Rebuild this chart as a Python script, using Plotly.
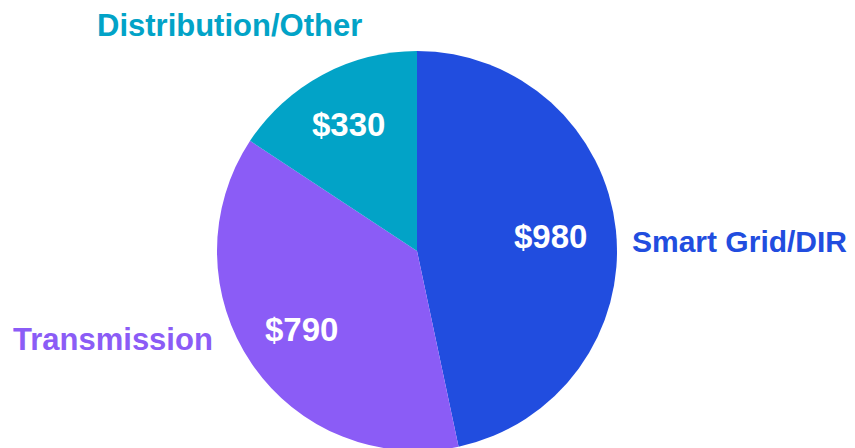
import plotly.graph_objects as go
import math

categories = ["Smart Grid/DIR", "Transmission", "Distribution/Other"]
values = [980, 790, 330]
value_labels = ["$980", "$790", "$330"]
colors = ["#214DDF", "#8B5CF6", "#02A3C7"]

# figure geometry (page body adds an 8px margin)
W, H = 847, 448
cx, cy, R = 409, 243, 200
label_radius = [0.67, 0.70, 0.72]

fig = go.Figure(go.Pie(
    labels=categories,
    values=values,
    textinfo="none",
    marker=dict(colors=colors, line=dict(width=0)),
    sort=False,
    direction="clockwise",
    rotation=0,
    hoverinfo="label+value",
    domain=dict(x=[(cx - R) / W, (cx + R) / W], y=[(H - cy - R) / H, (H - cy + R) / H]),
))

# value labels at the slice mid-angles
total = sum(values)
start = 0.0
for v, lab, fr in zip(values, value_labels, label_radius):
    mid = start + v / total * 360 / 2
    start += v / total * 360
    a = math.radians(mid)
    px = cx + fr * R * math.sin(a)
    py = cy - fr * R * math.cos(a)
    fig.add_annotation(
        x=px / W, y=1 - py / H, xref="paper", yref="paper",
        text=lab, showarrow=False, xanchor="center", yanchor="middle",
        font=dict(family="Liberation Sans, Arial, sans-serif", size=33, color="white", weight="bold"),
    )

label_pos = {
    "Smart Grid/DIR": (731, 233),
    "Transmission": (105, 331),
    "Distribution/Other": (221, 17),
}
label_size = {"Smart Grid/DIR": 30, "Transmission": 31, "Distribution/Other": 31}
for cat, col in zip(categories, colors):
    x, y = label_pos[cat]
    fig.add_annotation(
        x=x / W, y=1 - y / H, xref="paper", yref="paper",
        text=cat, showarrow=False, xanchor="center", yanchor="middle",
        font=dict(family="Liberation Sans, Arial, sans-serif", size=label_size[cat], color=col, weight="bold"),
    )

fig.update_layout(
    width=W, height=H,
    margin=dict(l=0, r=0, t=0, b=0),
    showlegend=False,
    paper_bgcolor="white",
    plot_bgcolor="white",
)
fig.write_html("out.html")
